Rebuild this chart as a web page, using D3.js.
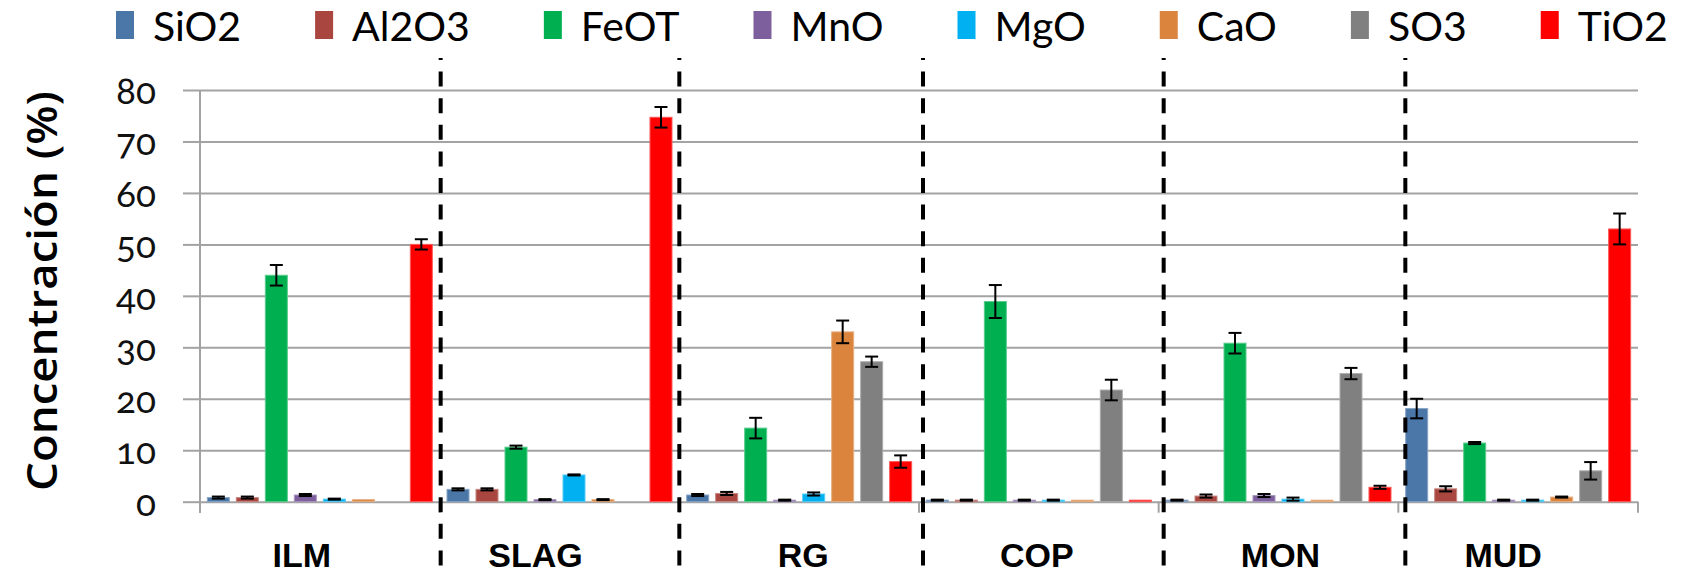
<!DOCTYPE html>
<html>
<head>
<meta charset="utf-8">
<script src="https://cdn.jsdelivr.net/npm/d3@7/dist/d3.min.js"></script>
<style>
  html, body { margin: 0; padding: 0; background: #fff; }
  svg { display: block; }
</style>
</head>
<body>
<script>
// ---- data -------------------------------------------------------------
const categories = ["ILM", "SLAG", "RG", "COP", "MON", "MUD"];
const oxides = ["SiO2", "Al2O3", "FeOT", "MnO", "MgO", "CaO", "SO3", "TiO2"];
const yTicks = [0, 10, 20, 30, 40, 50, 60, 70, 80];

// mean concentration (%) per sample, one array per oxide
const SiO2  = [0.8, 2.4, 1.3, 0.3, 0.3, 18.1];
const Al2O3 = [0.8, 2.4, 1.6, 0.3, 1.1, 2.5];
const FeOT  = [44.0, 10.6, 14.3, 38.9, 30.8, 11.4];
const MnO   = [1.3, 0.4, 0.3, 0.3, 1.2, 0.3];
const MgO   = [0.5, 5.2, 1.5, 0.3, 0.5, 0.3];
const CaO   = [0.4, 0.4, 33.0, 0.3, 0.3, 0.9];
const SO3   = [0, 0, 27.2, 21.7, 24.9, 6.0];
const TiO2  = [50.0, 74.7, 7.8, 0.3, 2.8, 53.0];

// standard deviation per sample
const SiO2_sd  = [0.2, 0.2, 0.2, 0.1, 0.1, 1.9];
const Al2O3_sd = [0.2, 0.2, 0.3, 0.1, 0.3, 0.5];
const FeOT_sd  = [2.0, 0.3, 2.0, 3.2, 2.0, 0.2];
const MnO_sd   = [0.2, 0.1, 0.1, 0.1, 0.3, 0.1];
const MgO_sd   = [0.1, 0.1, 0.3, 0.1, 0.3, 0.1];
const CaO_sd   = [0, 0.1, 2.2, 0, 0, 0.1];
const SO3_sd   = [0, 0, 1.0, 2.0, 1.1, 1.7];
const TiO2_sd  = [1.0, 2.0, 1.2, 0, 0.3, 3.0];

const values = { SiO2, Al2O3, FeOT, MnO, MgO, CaO, SO3, TiO2 };
const errors = { SiO2: SiO2_sd, Al2O3: Al2O3_sd, FeOT: FeOT_sd, MnO: MnO_sd,
                 MgO: MgO_sd, CaO: CaO_sd, SO3: SO3_sd, TiO2: TiO2_sd };

// ---- styling ------------------------------------------------------------
const colors = {
  SiO2: "#4A76A8", Al2O3: "#A9463F", FeOT: "#00B050", MnO: "#7D5F9D",
  MgO: "#00B0F0", CaO: "#DA843E", SO3: "#808080", TiO2: "#FF0000"
};
const gridColor = "#a3a3a3";
const W = 1690, H = 576;
const plot = { left: 200, right: 1638, top: 90, bottom: 501.7 };
// hand placement of the sample names and separators relative to their band
const labelShift = { ILM: -18, SLAG: -24, RG: 4, COP: -2, MON: 2, MUD: -15 };
const sepShift = [1, 0, 4, 5, 7];

const svg = d3.select("body").append("svg")
  .attr("width", W).attr("height", H)
  .attr("viewBox", `0 0 ${W} ${H}`);

// ---- scales -------------------------------------------------------------
const x0 = d3.scaleBand().domain(categories)
  .range([plot.left, plot.right]).paddingInner(0).paddingOuter(0);
const x1 = d3.scaleBand().domain(oxides)
  .range([0, x0.bandwidth()]).paddingInner(0.241).paddingOuter(0.253);
const y = d3.scaleLinear().domain([0, 80]).range([plot.bottom, plot.top]);

// ---- gridlines + y axis ----------------------------------------------------
const grid = svg.append("g")
  .attr("transform", `translate(${plot.left},0)`)
  .call(d3.axisLeft(y).tickValues(yTicks)
    .tickSize(-(plot.right - plot.left)).tickFormat(""));
grid.select(".domain").remove();
grid.selectAll(".tick line").attr("stroke", gridColor).attr("stroke-width", 2);

const yAxis = svg.append("g")
  .attr("transform", `translate(${plot.left},0)`)
  .call(d3.axisLeft(y).tickValues(yTicks).tickSize(17).tickPadding(27));
yAxis.select(".domain").remove();
yAxis.selectAll(".tick line").attr("stroke", gridColor).attr("stroke-width", 2);
yAxis.selectAll(".tick text")
  .attr("fill", "#111")
  .attr("dy", "0.36em")
  .style("font-family", "Lato, 'Noto Sans', sans-serif")
  .style("font-size", "37px")
  .style("font-variant-numeric", "oldstyle-nums")
  .style("font-feature-settings", "'onum' 1");

// vertical axis line
svg.append("line")
  .attr("x1", plot.left).attr("x2", plot.left)
  .attr("y1", y(80)).attr("y2", plot.bottom + 11)
  .attr("stroke", gridColor).attr("stroke-width", 2);

// category boundary ticks below the baseline
const boundaries = categories.map(c => x0(c)).concat([plot.right]);
svg.append("g").selectAll("line").data(boundaries).join("line")
  .attr("x1", d => d).attr("x2", d => d)
  .attr("y1", plot.bottom).attr("y2", plot.bottom + 11)
  .attr("stroke", gridColor).attr("stroke-width", 2);

// ---- bars ---------------------------------------------------------------
const rows = [];
categories.forEach((c, i) => oxides.forEach(o => {
  rows.push({ cat: c, ox: o, v: values[o][i], e: errors[o][i] });
}));

svg.append("g").selectAll("rect").data(rows.filter(d => d.v > 0)).join("rect")
  .attr("x", d => x0(d.cat) + x1(d.ox))
  .attr("y", d => y(d.v))
  .attr("width", x1.bandwidth())
  .attr("height", d => y(0) - y(d.v))
  .attr("fill", d => colors[d.ox])
  .attr("stroke", d => d3.interpolateRgb(colors[d.ox], "#fff")(0.35))
  .attr("stroke-width", 1);

// error bars
const eb = svg.append("g").attr("stroke", "#000").attr("stroke-width", 2);
const withErr = rows.filter(d => d.e > 0);
const cx = d => x0(d.cat) + x1(d.ox) + x1.bandwidth() / 2;
const capHalf = 6.5;
eb.selectAll("line.stem").data(withErr).join("line").attr("class", "stem")
  .attr("x1", cx).attr("x2", cx)
  .attr("y1", d => y(d.v + d.e)).attr("y2", d => y(Math.max(0, d.v - d.e)));
eb.selectAll("line.capTop").data(withErr).join("line").attr("class", "capTop")
  .attr("x1", d => cx(d) - capHalf).attr("x2", d => cx(d) + capHalf)
  .attr("y1", d => y(d.v + d.e)).attr("y2", d => y(d.v + d.e));
eb.selectAll("line.capBot").data(withErr).join("line").attr("class", "capBot")
  .attr("x1", d => cx(d) - capHalf).attr("x2", d => cx(d) + capHalf)
  .attr("y1", d => y(Math.max(0, d.v - d.e))).attr("y2", d => y(Math.max(0, d.v - d.e)));

// ---- dashed separators between samples -----------------------------------
svg.append("g").selectAll("line")
  .data(categories.slice(1).map((c, i) => x0(c) + sepShift[i]))
  .join("line")
  .attr("x1", d => d).attr("x2", d => d)
  .attr("y1", 58).attr("y2", H)
  .attr("stroke", "#000").attr("stroke-width", 4)
  .attr("stroke-dasharray", "15,11.6")
  .attr("stroke-dashoffset", 13);

// ---- sample names -------------------------------------------------------
svg.append("g").selectAll("text").data(categories).join("text")
  .attr("x", c => x0(c) + x0.bandwidth() / 2 + labelShift[c])
  .attr("y", 567)
  .attr("text-anchor", "middle")
  .style("font-family", "'Liberation Sans', Arial, sans-serif")
  .style("font-weight", "bold")
  .style("font-size", "34px")
  .attr("fill", "#000")
  .text(c => c);

// ---- y title ------------------------------------------------------------
svg.append("text")
  .attr("transform", "translate(57,291) rotate(-90)")
  .attr("text-anchor", "middle")
  .attr("textLength", 400)
  .attr("lengthAdjust", "spacingAndGlyphs")
  .style("font-family", "'Open Sans', 'Noto Sans', sans-serif")
  .style("font-weight", "600")
  .style("font-size", "42px")
  .attr("fill", "#000")
  .text("Concentración (%)");

// ---- legend -------------------------------------------------------------
const legend = svg.append("g");
let lx = 116;
oxides.forEach(o => {
  const item = legend.append("g");
  item.append("rect")
    .attr("x", lx).attr("y", 11).attr("width", 18).attr("height", 28)
    .attr("fill", colors[o]);
  const t = item.append("text")
    .attr("x", lx + 37).attr("y", 41)
    .style("font-family", "Lato, 'Open Sans', sans-serif")
    .style("font-size", "41px")
    .attr("fill", "#000")
    .text(o);
  lx += 37 + t.node().getComputedTextLength() + 74;
});
</script>
</body>
</html>
